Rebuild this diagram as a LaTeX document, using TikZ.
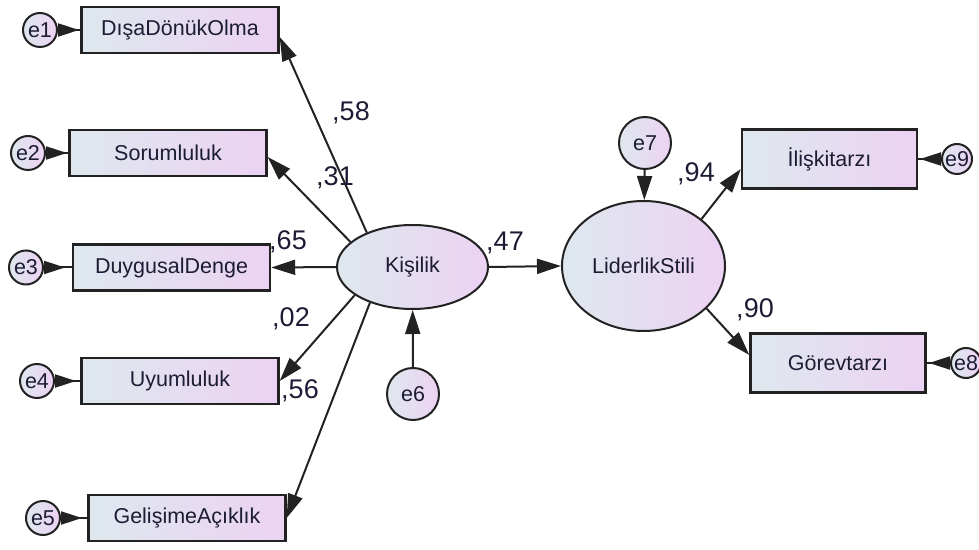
\documentclass[tikz,border=0pt]{standalone}
\usepackage{fontspec}
\setmainfont{Liberation Sans}
\usetikzlibrary{arrows.meta,shapes.geometric}
\definecolor{shadeL}{RGB}{222,232,238}
\definecolor{shadeR}{RGB}{236,210,243}
\definecolor{ink}{RGB}{28,28,52}
\definecolor{edge}{RGB}{34,34,34}

\begin{document}
\begin{tikzpicture}[x=0.5pt, y=-0.5pt,
  obs/.style={draw=edge, line width=1.2pt, left color=shadeL, right color=shadeR, minimum width=98.5pt, minimum height=23pt, inner sep=0pt, font=\fontsize{10.75pt}{13pt}\selectfont, text=ink},
  obsR/.style={obs, minimum width=87.5pt, minimum height=29.5pt},
  latent/.style={ellipse, draw=edge, line width=1pt, left color=shadeL, right color=shadeR, inner sep=0pt, font=\fontsize{10.75pt}{13pt}\selectfont, text=ink},
  err/.style={circle, draw=edge, line width=1pt, left color=shadeL, right color=shadeR, inner sep=0pt, minimum size=17pt, font=\fontsize{10.75pt}{12pt}\selectfont, text=ink},
  coef/.style={font=\fontsize{13.5pt}{15pt}\selectfont, text=ink, inner sep=0pt},
  load/.style={draw=edge, line width=1pt, -{Triangle[length=12pt,width=7.5pt]}},
  errpath/.style={draw=edge, line width=1pt, {Triangle[reversed,length=10.5pt,width=6.5pt]}-}
]
\useasboundingbox (0,0) rectangle (979,550);

\node[obs] (dd) at (180,30) {DışaDönükOlma};
\node[obs] (sr) at (168,153) {Sorumluluk};
\node[obs] (dg) at (171.5,267.5) {DuygusalDenge};
\node[obs] (uy) at (180,381) {Uyumluluk};
\node[obs] (ge) at (187,518) {GelişimeAçıklık};

\node[err] (e1) at (40,30) {e1};
\node[err] (e2) at (28,153) {e2};
\node[err] (e3) at (26,267.5) {e3};
\node[err] (e4) at (37,381) {e4};
\node[err] (e5) at (43,518) {e5};

\node[latent, minimum width=75.5pt, minimum height=42pt] (ks) at (412.5,267) {Kişilik};
\node[err, minimum size=26pt] (e6) at (413,394) {e6};

\node[latent, minimum width=81.5pt, minimum height=65pt] (ls) at (643.5,266) {LiderlikStili};
\node[err, minimum size=26pt] (e7) at (645,143) {e7};

\node[obsR] (il) at (829.5,159) {İlişkitarzı};
\node[obsR] (gv) at (838,363) {Görevtarzı};
\node[err, minimum size=15pt] (e9) at (957,159) {e9};
\node[err, minimum size=15pt] (e8) at (966,363) {e8};

\draw[errpath] (e1) -- (dd);
\draw[errpath] (e2) -- (sr);
\draw[errpath] (e3) -- (dg);
\draw[errpath] (e4) -- (uy);
\draw[errpath] (e5) -- (ge);
\draw[errpath] (e9) -- (il);
\draw[errpath] (e8) -- (gv);

\draw[load] (ks.143) -- ([yshift=-3.5pt]dd.east);
\draw[load] (ks.158) -- ([yshift=-2pt]sr.east);
\draw[load] (ks.west) -- (dg.east);
\draw[load] (ks.206) -- (uy.east);
\draw[load] (ks.220) -- (ge.east);
\draw[load] (e6) -- (ks);
\draw[load] (ks.east) -- (ls.west);
\draw[load] (e7) -- (ls);
\draw[load] (ls.39) -- ([yshift=-5pt]il.west);
\draw[load] (ls.326) -- ([yshift=4pt]gv.west);

\node[coef] (c58) at (351,113) {,58};
\node[coef] (c31) at (335,178) {,31};
\node[coef] (c65) at (288,242) {,65};
\node[coef] (c02) at (291,319) {,02};
\node[coef] (c56) at (300,391) {,56};
\node[coef] (c47) at (505,243) {,47};
\node[coef] (c94) at (696,174) {,94};
\node[coef] (c90) at (755,310) {,90};
\end{tikzpicture}
\end{document}
